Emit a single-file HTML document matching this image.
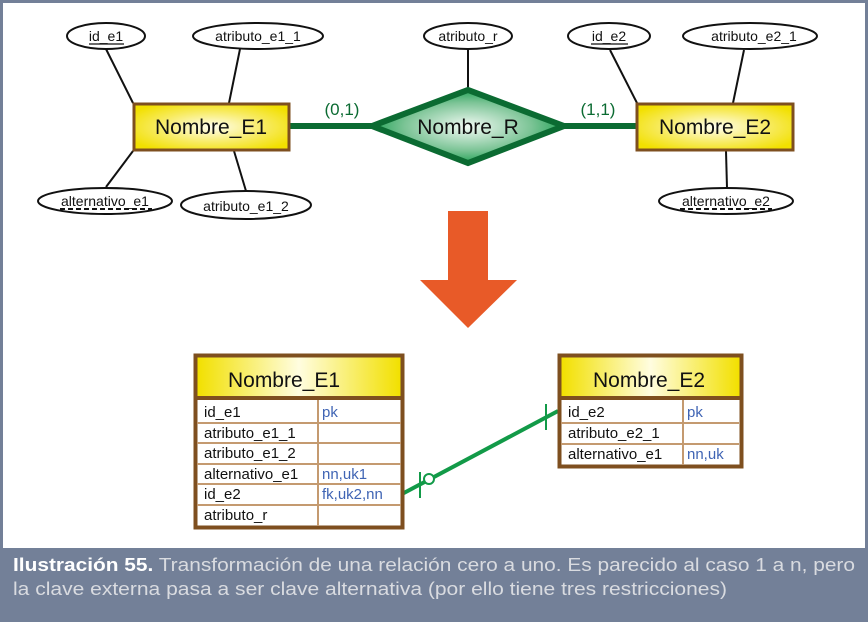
<!DOCTYPE html>
<html><head><meta charset="utf-8"><style>
html,body{margin:0;padding:0;background:#fff;}
svg{display:block;}
text{font-family:"Liberation Sans",sans-serif;}
</style></head><body>
<svg width="868" height="625" viewBox="0 0 868 625" xmlns="http://www.w3.org/2000/svg">
<defs>
<radialGradient id="yg" cx="50%" cy="50%" r="60%"><stop offset="0" stop-color="#fffef0"/><stop offset="0.6" stop-color="#f7ea5a"/><stop offset="1" stop-color="#f2e000"/></radialGradient>
<radialGradient id="gg" cx="50%" cy="50%" r="55%"><stop offset="0" stop-color="#f2faf4"/><stop offset="0.6" stop-color="#7cc496"/><stop offset="1" stop-color="#0e9a48"/></radialGradient>
<linearGradient id="hg" x1="0" y1="0" x2="1" y2="0"><stop offset="0" stop-color="#f2e000"/><stop offset="0.5" stop-color="#fffde0"/><stop offset="1" stop-color="#f2e000"/></linearGradient>
</defs>
<rect x="0" y="0" width="868" height="625" fill="#738098"/>
<rect x="3" y="3" width="862" height="545" fill="#fff"/>
<rect x="0" y="622" width="868" height="3" fill="#fff"/>

<g stroke="#111" stroke-width="2">
<line x1="106" y1="49" x2="133" y2="103"/>
<line x1="240" y1="49" x2="229" y2="103"/>
<line x1="133" y1="151" x2="106" y2="187"/>
<line x1="234" y1="151" x2="246" y2="191"/>
<line x1="468" y1="49" x2="468" y2="88"/>
<line x1="610" y1="50" x2="637" y2="103"/>
<line x1="744" y1="50" x2="733" y2="103"/>
<line x1="726" y1="151" x2="727" y2="188"/>
</g>
<g fill="#fff" stroke="#111" stroke-width="2">
<ellipse cx="106" cy="36" rx="39" ry="13"/>
<ellipse cx="258" cy="36" rx="65" ry="13"/>
<ellipse cx="105" cy="201" rx="67" ry="13"/>
<ellipse cx="246" cy="205" rx="65" ry="14"/>
<ellipse cx="468" cy="36" rx="44" ry="13"/>
<ellipse cx="609" cy="36" rx="41" ry="13"/>
<ellipse cx="750" cy="36" rx="67" ry="13"/>
<ellipse cx="726" cy="201" rx="67" ry="13"/>
</g>
<g font-size="14" fill="#111" text-anchor="middle">
<text x="106" y="41">id_e1</text>
<text x="258" y="41">atributo_e1_1</text>
<text x="105" y="206">alternativo_e1</text>
<text x="246" y="211">atributo_e1_2</text>
<text x="468" y="41">atributo_r</text>
<text x="609" y="41">id_e2</text>
<text x="754" y="41">atributo_e2_1</text>
<text x="726" y="206">alternativo_e2</text>
</g>
<g stroke="#111" stroke-width="1.2">
<line x1="89" y1="44" x2="124" y2="44"/>
<line x1="591" y1="44" x2="628" y2="44"/>
</g>
<g stroke="#111" stroke-width="2" stroke-dasharray="5,3">
<line x1="60" y1="209" x2="152" y2="209"/>
<line x1="680" y1="209" x2="772" y2="209"/>
</g>

<g stroke="#0b6b32" stroke-width="6">
<line x1="290" y1="126" x2="372" y2="126"/>
<line x1="564" y1="126" x2="636" y2="126"/>
</g>
<polygon points="372,126 468,90 564,126 468,163" fill="url(#gg)" stroke="#0b6b32" stroke-width="6" stroke-linejoin="miter"/>
<text x="468" y="134" font-size="21" text-anchor="middle" fill="#111">Nombre_R</text>
<g font-size="17" fill="#0b6b32" text-anchor="middle">
<text x="342" y="115">(0,1)</text>
<text x="598" y="115">(1,1)</text>
</g>

<rect x="134" y="104" width="155" height="46" fill="url(#yg)" stroke="#7e4f1f" stroke-width="3"/>
<text x="211" y="134" font-size="21" text-anchor="middle" fill="#111">Nombre_E1</text>
<rect x="637" y="104" width="156" height="46" fill="url(#yg)" stroke="#7e4f1f" stroke-width="3"/>
<text x="715" y="134" font-size="21" text-anchor="middle" fill="#111">Nombre_E2</text>

<rect x="448" y="211" width="40" height="70" fill="#e85a28"/>
<polygon points="420,280 517,280 468,328" fill="#e85a28"/>

<g stroke="#129a48" stroke-width="4" fill="none">
<line x1="402" y1="494" x2="558" y2="411"/>
</g>
<g stroke="#129a48" stroke-width="2" fill="#fff">
<line x1="420" y1="472" x2="420" y2="498"/>
<circle cx="429" cy="479" r="5"/>
<line x1="546" y1="404" x2="546" y2="430"/>
</g>

<rect x="195.5" y="355.5" width="207" height="172" fill="#fff" stroke="#7e4f1f" stroke-width="4"/>
<rect x="197.5" y="357.5" width="203" height="39" fill="url(#hg)"/>
<line x1="195" y1="398" x2="403" y2="398" stroke="#7e4f1f" stroke-width="4"/>
<g stroke="#c49a70" stroke-width="2">
<line x1="197" y1="423" x2="401" y2="423"/>
<line x1="197" y1="443" x2="401" y2="443"/>
<line x1="197" y1="464" x2="401" y2="464"/>
<line x1="197" y1="484" x2="401" y2="484"/>
<line x1="197" y1="505" x2="401" y2="505"/>
<line x1="318" y1="400" x2="318" y2="526"/>
</g>
<text x="284" y="387" font-size="21" text-anchor="middle" fill="#111">Nombre_E1</text>
<g font-size="15" fill="#111">
<text x="204" y="417">id_e1</text>
<text x="204" y="438">atributo_e1_1</text>
<text x="204" y="458">atributo_e1_2</text>
<text x="204" y="479">alternativo_e1</text>
<text x="204" y="499">id_e2</text>
<text x="204" y="520">atributo_r</text>
</g>
<g font-size="15" fill="#3f64b4">
<text x="322" y="417">pk</text>
<text x="322" y="479">nn,uk1</text>
<text x="322" y="499">fk,uk2,nn</text>
</g>

<rect x="559.5" y="355.5" width="182" height="111" fill="#fff" stroke="#7e4f1f" stroke-width="4"/>
<rect x="561.5" y="357.5" width="178" height="39" fill="url(#hg)"/>
<line x1="559" y1="398" x2="741" y2="398" stroke="#7e4f1f" stroke-width="4"/>
<g stroke="#c49a70" stroke-width="2">
<line x1="561" y1="423" x2="739" y2="423"/>
<line x1="561" y1="444" x2="739" y2="444"/>
<line x1="683" y1="400" x2="683" y2="465"/>
</g>
<text x="649" y="387" font-size="21" text-anchor="middle" fill="#111">Nombre_E2</text>
<g font-size="15" fill="#111">
<text x="568" y="417">id_e2</text>
<text x="568" y="438">atributo_e2_1</text>
<text x="568" y="459">alternativo_e1</text>
</g>
<g font-size="15" fill="#3f64b4">
<text x="687" y="417">pk</text>
<text x="687" y="459">nn,uk</text>
</g>

<g font-size="18" fill="#d9dbe0">
<text x="13" y="571" textLength="842" lengthAdjust="spacingAndGlyphs"><tspan font-weight="bold" fill="#fff">Ilustración 55.</tspan> Transformación de una relación cero a uno. Es parecido al caso 1 a n, pero</text>
<text x="13" y="595" textLength="714" lengthAdjust="spacingAndGlyphs">la clave externa pasa a ser clave alternativa (por ello tiene tres restricciones)</text>
</g>
</svg>
</body></html>
